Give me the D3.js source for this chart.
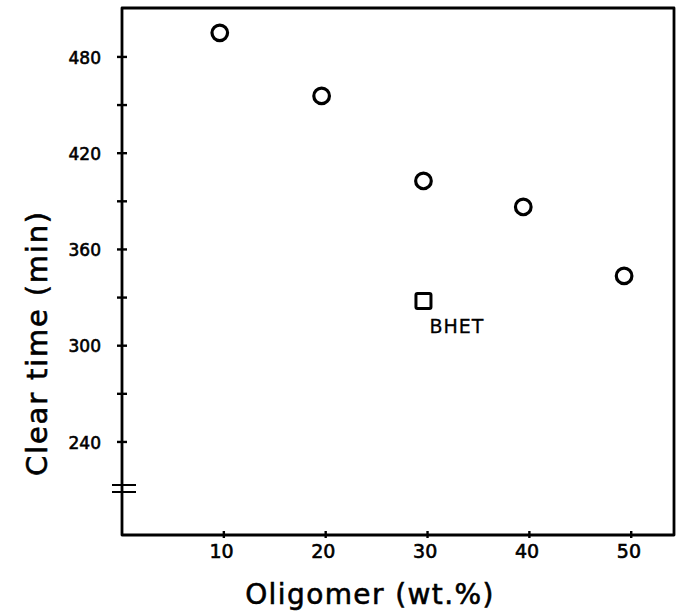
<!DOCTYPE html>
<html lang="en">
<head>
<meta charset="UTF-8">
<title>Clear time vs oligomer</title>
<script src="https://d3js.org/d3.v7.min.js"></script>
<style>
  body { margin: 0; background: #fff; }
  svg text { font-family: "DejaVu Sans", sans-serif; fill: #000; stroke: #000; stroke-width: 0.6px; }
</style>
</head>
<body>
<svg id="chart" width="678" height="613"></svg>
<script>
// values
const oligomer = [9.6, 19.6, 29.6, 39.4, 49.3];
const clearTime = [495, 455.7, 402.7, 386.5, 343.5];
const bhetOligomer = [29.6];
const bhetTime = [327.8];
const bhetLabel = "BHET";

const xTicks = [10, 20, 30, 40, 50];
const yMajorTicks = [240, 300, 360, 420, 480];
const yMinorTicks = [270, 330, 390, 450];
const yBreak = 211;

const svg = d3.select("#chart");

// plot area
const plotLeft = 122, plotRight = 674, plotTop = 8, plotBottom = 535;

const x = d3.scaleLinear().domain([0, 54.2]).range([plotLeft, plotRight]);
const y = d3.scaleLinear().domain([182, 510.5]).range([plotBottom, plotTop]);

// frame
svg.append("path")
    .attr("d", `M${plotLeft},${y(yBreak)}V${plotTop}H${plotRight}V${plotBottom}H${plotLeft}V${y(yBreak)}`)
    .attr("fill", "none")
    .attr("stroke", "#000")
    .attr("stroke-width", 2.8)
    .attr("stroke-linejoin", "round");

// axis break marks
[-3.5, 3.5].forEach(dy => {
    svg.append("line")
        .attr("x1", plotLeft - 10).attr("x2", plotLeft + 14)
        .attr("y1", y(yBreak) + dy).attr("y2", y(yBreak) + dy)
        .attr("stroke", "#000").attr("stroke-width", 2);
});

// y axis labels
const yAxis = svg.append("g")
    .attr("transform", `translate(${plotLeft},0)`)
    .call(d3.axisLeft(y).tickValues(yMajorTicks).tickSize(0).tickPadding(21));
yAxis.select(".domain").remove();
yAxis.selectAll("text").attr("font-size", 17).attr("font-family", null).attr("dy", "0.36em");

// crossing y ticks
svg.append("g").selectAll("line")
    .data(yMajorTicks.concat(yMinorTicks))
    .join("line")
    .attr("x1", plotLeft - 5).attr("x2", plotLeft + 5)
    .attr("y1", d => y(d)).attr("y2", d => y(d))
    .attr("stroke", "#000").attr("stroke-width", 2.4);

// x axis labels
const xAxis = svg.append("g")
    .attr("transform", `translate(0,${plotBottom})`)
    .call(d3.axisBottom(x).tickValues(xTicks).tickSize(0).tickPadding(10));
xAxis.select(".domain").remove();
xAxis.selectAll("text").attr("font-size", 19).attr("font-family", null).attr("dx", "-0.15em");

// small x ticks
svg.append("g").selectAll("line")
    .data(xTicks)
    .join("line")
    .attr("x1", d => x(d)).attr("x2", d => x(d))
    .attr("y1", plotBottom - 4).attr("y2", plotBottom + 3)
    .attr("stroke", "#000").attr("stroke-width", 2.4);

// oligomer points
svg.append("g").selectAll("circle")
    .data(oligomer)
    .join("circle")
    .attr("cx", d => x(d))
    .attr("cy", (d, i) => y(clearTime[i]))
    .attr("r", 7.8)
    .attr("fill", "none")
    .attr("stroke", "#000")
    .attr("stroke-width", 3.2);

// BHET point
svg.append("g").selectAll("rect")
    .data(bhetOligomer)
    .join("rect")
    .attr("x", d => x(d) - 7.5)
    .attr("y", (d, i) => y(bhetTime[i]) - 7.5)
    .attr("width", 15).attr("height", 15)
    .attr("rx", 1.5)
    .attr("fill", "none")
    .attr("stroke", "#000")
    .attr("stroke-width", 3);

svg.append("text")
    .attr("x", x(bhetOligomer[0]) + 6)
    .attr("y", y(bhetTime[0]) + 32)
    .attr("font-size", 19)
    .attr("letter-spacing", 1)
    .style("stroke-width", "0.3px")
    .text(bhetLabel);

// axis titles
svg.append("text")
    .attr("x", 370).attr("y", 604)
    .attr("text-anchor", "middle")
    .attr("font-size", 28)
    .attr("letter-spacing", 1.4)
    .text("Oligomer (wt.%)");

svg.append("text")
    .attr("transform", "translate(47,343) rotate(-90)")
    .attr("text-anchor", "middle")
    .attr("font-size", 29)
    .attr("letter-spacing", 1.8)
    .text("Clear time (min)");
</script>
</body>
</html>
